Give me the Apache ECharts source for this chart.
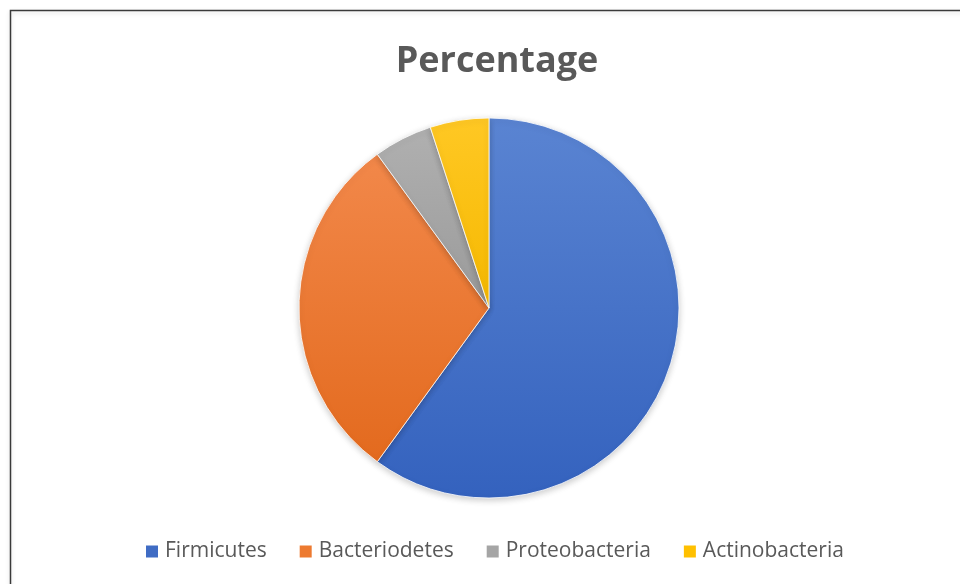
<!DOCTYPE html>
<html><head><meta charset="utf-8">
<script src="https://cdn.jsdelivr.net/npm/echarts@6/dist/echarts.min.js"></script>
<style>html,body{margin:0;padding:0;background:#fff}#c{width:960px;height:584px}</style>
</head><body><div id="c"></div>
<script>
const categories = ['Firmicutes', 'Bacteriodetes', 'Proteobacteria', 'Actinobacteria'];
const values = [60, 30, 5, 5];
const colorPairs = [['#5a84d2', '#3462be'], ['#f2884a', '#e36a1e'], ['#b0b0b0', '#9a9a9a'], ['#ffc824', '#f5b800']];
const legendColors = ['#3f6cc4', '#ed7a30', '#a5a5a5', '#ffc000'];

const chart = echarts.init(document.getElementById('c'));
const grad = (p) => new echarts.graphic.LinearGradient(0, 0, 0, 1, [{offset: 0, color: p[0]}, {offset: 1, color: p[1]}]);
chart.setOption({
  animation: false,
  backgroundColor: '#fff',
  title: {
    text: 'Percentage', left: 492, top: 39, textAlign: 'center',
    textStyle: {fontFamily: 'Open Sans', fontWeight: 'bold', fontSize: 36, color: '#595959'}
  },
  legend: {
    top: 536, left: 139, itemWidth: 14, itemHeight: 14, itemGap: 31,
    icon: 'rect',
    textStyle: {fontFamily: 'Open Sans', fontSize: 21, color: '#595959', padding: [0, 0, 0, 1]},
    data: categories.map((n, i) => ({name: n, itemStyle: {color: legendColors[i]}}))
  },
  graphic: [{
    type: 'rect', shape: {x: 10.5, y: 10.5, width: 1000, height: 700},
    style: {fill: 'none', stroke: '#3a3a3a', lineWidth: 1.5, shadowBlur: 4, shadowColor: 'rgba(0,0,0,0.15)', shadowOffsetY: 2}
  }],
  series: [{
    type: 'pie', center: [489, 308], radius: 190, startAngle: 90, clockwise: true,
    label: {show: false}, labelLine: {show: false},
    itemStyle: {borderColor: '#fff', borderWidth: 0.8, shadowBlur: 6, shadowColor: 'rgba(0,0,0,0.2)', shadowOffsetY: 2},
    emphasis: {disabled: true},
    data: categories.map((n, i) => ({name: n, value: values[i], itemStyle: {color: grad(colorPairs[i])}}))
  }]
});
</script></body></html>
